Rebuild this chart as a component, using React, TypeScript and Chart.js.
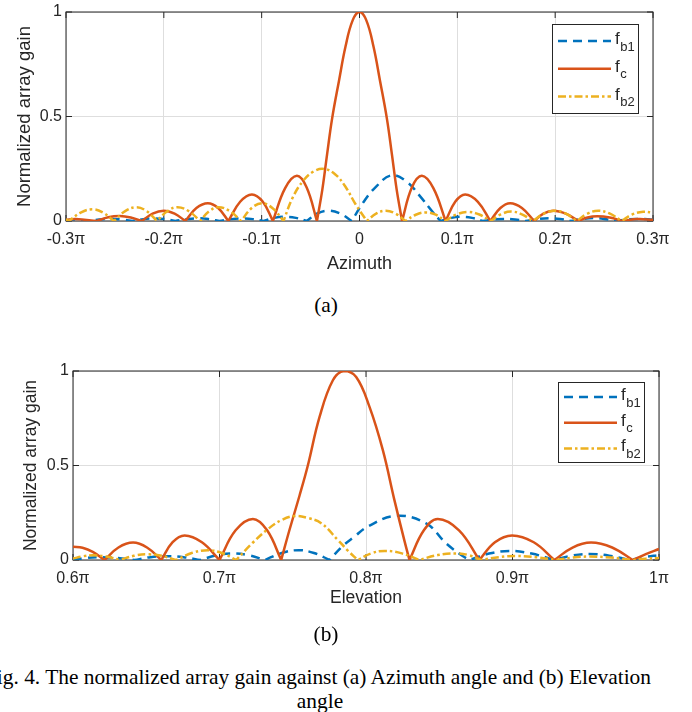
import React, { useEffect, useRef } from 'react';
import { Chart, registerables } from 'chart.js';

Chart.register(...registerables);

// ---------- Shared styling ----------
const SANS = '"Liberation Sans", Arial, Helvetica, sans-serif';
const SERIF = '"Liberation Serif", "Times New Roman", serif';
const INK = '#262626';
const GRID = '#dedede';

const seriesColors = ['#0072BD', '#D95319', '#EDB120'];
const seriesDashes = [[9, 6], [], [8, 3, 2.5, 3]];
const legendMain = ['f', 'f', 'f'];
const legendSub = ['b1', 'c', 'b2'];

const gainTicks = [0, 0.5, 1];
const gainTickLabels = ['0', '0.5', '1'];

// ---------- (a) Azimuth cut, angle in units of π ----------
const azimuthTicks = [-0.3, -0.2, -0.1, 0, 0.1, 0.2, 0.3];
const azimuthTickLabels = ['-0.3π', '-0.2π', '-0.1π', '0', '0.1π', '0.2π', '0.3π'];

const azFb1X = [-0.3, -0.29, -0.277, -0.266, -0.255, -0.243, -0.232, -0.221, -0.21, -0.199, -0.188, -0.176, -0.165, -0.154, -0.143, -0.131, -0.12, -0.109, -0.098, -0.087, -0.076, -0.065, -0.054, -0.043, -0.032, -0.02, -0.008, 0.004, 0.016, 0.033, 0.049, 0.062, 0.074, 0.083, 0.094, 0.104, 0.115, 0.126, 0.137, 0.148, 0.159, 0.17, 0.182, 0.195, 0.205, 0.216, 0.228, 0.24, 0.25, 0.261, 0.273, 0.285, 0.3];
const azFb1Y = [0.004, 0.006, 0, 0.007, 0.01, 0.007, 0, 0.009, 0.012, 0.009, 0, 0.009, 0.013, 0.009, 0, 0.009, 0.012, 0.009, 0, 0.015, 0.02, 0.015, 0, 0.036, 0.049, 0.036, 0, 0.09, 0.16, 0.219, 0.185, 0.118, 0.048, 0, 0.015, 0.02, 0.015, 0, 0.007, 0.01, 0.007, 0, 0.01, 0.013, 0.01, 0, 0.01, 0.014, 0.01, 0, 0.007, 0.01, 0.006];

const azFcX = [-0.3, -0.29, -0.2685, -0.2568, -0.245, -0.2338, -0.2225, -0.2115, -0.2, -0.189, -0.178, -0.1667, -0.155, -0.1445, -0.134, -0.122, -0.11, -0.099, -0.0885, -0.076, -0.064, -0.054, -0.0435, -0.038, -0.0331, -0.028, -0.021, -0.0143, -0.007, 0, 0.007, 0.0143, 0.021, 0.028, 0.0331, 0.038, 0.0435, 0.0535, 0.0638, 0.0755, 0.088, 0.098, 0.108, 0.121, 0.1337, 0.144, 0.154, 0.166, 0.1786, 0.188, 0.198, 0.2108, 0.2236, 0.233, 0.243, 0.2558, 0.2686, 0.284, 0.3];
const azFcY = [0.006, 0.009, 0, 0.018, 0.024, 0.017, 0, 0.035, 0.049, 0.035, 0, 0.062, 0.085, 0.062, 0, 0.092, 0.127, 0.093, 0, 0.157, 0.216, 0.16, 0, 0.15, 0.32, 0.49, 0.67, 0.835, 0.96, 1, 0.96, 0.835, 0.67, 0.49, 0.32, 0.15, 0, 0.16, 0.216, 0.157, 0, 0.093, 0.127, 0.092, 0, 0.062, 0.085, 0.062, 0, 0.035, 0.049, 0.035, 0, 0.017, 0.023, 0.017, 0, 0.009, 0.006];

const azFb2X = [-0.3, -0.297, -0.285, -0.273, -0.262, -0.251, -0.2395, -0.228, -0.2175, -0.207, -0.1965, -0.186, -0.1745, -0.163, -0.1535, -0.144, -0.1325, -0.121, -0.1105, -0.0998, -0.0888, -0.0777, -0.0685, -0.058, -0.047, -0.036, -0.025, -0.0145, -0.004, 0.0075, 0.017, 0.027, 0.037, 0.047, 0.0575, 0.068, 0.078, 0.0876, 0.099, 0.111, 0.1225, 0.134, 0.1445, 0.155, 0.166, 0.177, 0.1885, 0.2, 0.211, 0.222, 0.233, 0.244, 0.256, 0.268, 0.279, 0.29, 0.3];
const azFb2Y = [0.008, 0, 0.04, 0.056, 0.04, 0, 0.047, 0.066, 0.047, 0, 0.047, 0.066, 0.047, 0, 0.047, 0.066, 0.047, 0, 0.061, 0.085, 0.061, 0, 0.11, 0.19, 0.237, 0.249, 0.224, 0.165, 0.08, 0, 0.035, 0.049, 0.035, 0, 0.03, 0.041, 0.03, 0, 0.031, 0.043, 0.031, 0, 0.032, 0.045, 0.032, 0, 0.035, 0.049, 0.035, 0, 0.035, 0.049, 0.035, 0, 0.032, 0.044, 0.04];

// ---------- (b) Elevation cut, angle in units of π ----------
const elevationTicks = [0.6, 0.7, 0.8, 0.9, 1.0];
const elevationTickLabels = ['0.6π', '0.7π', '0.8π', '0.9π', '1π'];

const elFb1X = [0.6, 0.6085, 0.617, 0.6295, 0.642, 0.653, 0.664, 0.6755, 0.687, 0.698, 0.709, 0.72, 0.731, 0.7425, 0.754, 0.7645, 0.7751, 0.7842, 0.792, 0.801, 0.8206, 0.841, 0.8547, 0.866, 0.8706, 0.884, 0.898, 0.913, 0.9286, 0.9405, 0.9525, 0.966, 0.98, 0.99, 1.0];
const elFb1Y = [0, 0.011, 0.015, 0.011, 0, 0.015, 0.02, 0.015, 0, 0.025, 0.035, 0.025, 0, 0.037, 0.052, 0.037, 0, 0.075, 0.123, 0.176, 0.234, 0.194, 0.088, 0.021, 0, 0.034, 0.048, 0.034, 0, 0.023, 0.032, 0.023, 0, 0.015, 0.026];

const elFcX = [0.6, 0.6065, 0.6135, 0.6216, 0.631, 0.641, 0.6505, 0.6603, 0.668, 0.6762, 0.688, 0.7, 0.711, 0.7228, 0.7325, 0.7421, 0.7478, 0.7546, 0.7603, 0.7683, 0.7774, 0.785, 0.7933, 0.8024, 0.8115, 0.8194, 0.8263, 0.8297, 0.8395, 0.849, 0.8635, 0.8774, 0.888, 0.8997, 0.9145, 0.9286, 0.941, 0.9536, 0.968, 0.982, 0.991, 1.0];
const elFcY = [0.07, 0.065, 0.043, 0, 0.066, 0.092, 0.066, 0, 0.094, 0.13, 0.094, 0, 0.157, 0.217, 0.157, 0, 0.16, 0.34, 0.5, 0.757, 0.951, 1, 0.968, 0.81, 0.581, 0.317, 0.1, 0, 0.157, 0.217, 0.157, 0, 0.094, 0.13, 0.094, 0, 0.066, 0.092, 0.066, 0, 0.031, 0.058];

const elFb2X = [0.6, 0.607, 0.614, 0.623, 0.632, 0.6415, 0.651, 0.6605, 0.6705, 0.681, 0.692, 0.7015, 0.7114, 0.7225, 0.7325, 0.742, 0.7512, 0.7605, 0.7694, 0.7808, 0.7876, 0.7944, 0.8035, 0.8126, 0.8245, 0.8365, 0.849, 0.8615, 0.87, 0.8786, 0.8905, 0.9025, 0.916, 0.93, 0.941, 0.952, 0.967, 0.982, 0.991, 1.0];
const elFb2Y = [0.008, 0.02, 0.025, 0.018, 0, 0.022, 0.03, 0.022, 0, 0.037, 0.052, 0.037, 0, 0.09, 0.16, 0.21, 0.233, 0.222, 0.195, 0.106, 0.05, 0, 0.035, 0.048, 0.035, 0, 0.026, 0.035, 0.026, 0, 0.015, 0.021, 0.015, 0, 0.013, 0.018, 0.013, 0, 0.007, 0.01];

// Pair x/y values; each null is repeated so the spline keeps a sharp notch there.
function toPoints(xs: number[], ys: number[]) {
  const pts: { x: number; y: number }[] = [];
  xs.forEach((x, i) => {
    pts.push({ x, y: ys[i] });
    if (ys[i] === 0) pts.push({ x, y: ys[i] });
  });
  return pts;
}

function makeDatasets(series: { x: number[]; y: number[] }[]) {
  return series.map((s, i) => ({
    label: legendMain[i] + '_' + legendSub[i],
    data: toPoints(s.x, s.y),
    borderColor: seriesColors[i],
    borderWidth: 2.5,
    borderDash: seriesDashes[i],
    borderCapStyle: 'butt' as const,
    pointRadius: 0,
    tension: 0.4,
    fill: false,
    // later series are painted over earlier ones
    order: series.length - i,
  }));
}

// Box around the plot area with MATLAB-style inward tick marks.
const axesBox = {
  id: 'axesBox',
  beforeDatasetsDraw(chart: any) {
    const { ctx, chartArea: a, scales } = chart;
    const len = 6;
    ctx.save();
    ctx.strokeStyle = INK;
    ctx.lineWidth = 1;
    ctx.strokeRect(a.left, a.top, a.right - a.left, a.bottom - a.top);
    ctx.beginPath();
    scales.x.ticks.forEach((t: any) => {
      const px = scales.x.getPixelForValue(t.value);
      ctx.moveTo(px, a.bottom);
      ctx.lineTo(px, a.bottom - len);
      ctx.moveTo(px, a.top);
      ctx.lineTo(px, a.top + len);
    });
    scales.y.ticks.forEach((t: any) => {
      const py = scales.y.getPixelForValue(t.value);
      ctx.moveTo(a.left, py);
      ctx.lineTo(a.left + len, py);
      ctx.moveTo(a.right, py);
      ctx.lineTo(a.right - len, py);
    });
    ctx.stroke();
    ctx.restore();
  },
};

// Legend box with subscripted series names.
const subLegend = {
  id: 'subLegend',
  afterDatasetsDraw(chart: any, _args: any, opts: any) {
    const { ctx, chartArea } = chart;
    const left = chartArea.right - opts.offsetRight;
    const top = chartArea.top + opts.offsetTop;
    ctx.save();
    ctx.fillStyle = '#ffffff';
    ctx.fillRect(left, top, opts.width, opts.height);
    ctx.strokeStyle = INK;
    ctx.lineWidth = 1;
    ctx.strokeRect(left + 0.5, top + 0.5, opts.width, opts.height);
    chart.data.datasets.forEach((ds: any, i: number) => {
      const y = top + opts.firstRow + i * opts.rowStep;
      ctx.strokeStyle = ds.borderColor;
      ctx.lineWidth = ds.borderWidth;
      ctx.lineCap = 'butt';
      ctx.setLineDash(ds.borderDash || []);
      ctx.beginPath();
      ctx.moveTo(left + 6, y);
      ctx.lineTo(left + 59, y);
      ctx.stroke();
      ctx.setLineDash([]);
      ctx.fillStyle = INK;
      ctx.textBaseline = 'alphabetic';
      ctx.textAlign = 'left';
      ctx.font = `17px ${SANS}`;
      ctx.fillText(legendMain[i], left + 63, y + 3);
      const w = ctx.measureText(legendMain[i]).width;
      ctx.font = `13px ${SANS}`;
      ctx.fillText(legendSub[i], left + 63 + w + 0.5, y + 9.5);
    });
    ctx.restore();
  },
};

type PanelSpec = {
  series: { x: number[]; y: number[] }[];
  xMin: number;
  xMax: number;
  xTicks: number[];
  xTickLabels: string[];
  xTitle: string;
  xTitleSize: number;
  xTitlePad: number;
  yTitleSize: number;
  yTitlePad: number;
  yAxisWidth: number;
  xAxisHeight: number;
  padding: { left: number; top: number; right: number; bottom: number };
  legend: { offsetRight: number; offsetTop: number; width: number; height: number; firstRow: number; rowStep: number };
};

function makeConfig(p: PanelSpec): any {
  const tickFont = { family: SANS, size: 16 };
  return {
    type: 'line',
    data: { datasets: makeDatasets(p.series) },
    plugins: [axesBox, subLegend],
    options: {
      responsive: false,
      animation: false,
      events: [],
      layout: { padding: p.padding },
      plugins: {
        legend: { display: false },
        tooltip: { enabled: false },
        subLegend: p.legend,
      },
      scales: {
        x: {
          type: 'linear',
          min: p.xMin,
          max: p.xMax,
          afterBuildTicks: (s: any) => {
            s.ticks = p.xTicks.map((v) => ({ value: v }));
          },
          afterFit: (s: any) => {
            s.height = p.xAxisHeight;
            s.paddingLeft = 0;
            s.paddingRight = 0;
          },
          ticks: {
            callback: (_v: any, i: number) => p.xTickLabels[i],
            font: tickFont,
            color: INK,
            padding: 8.5,
            maxRotation: 0,
            autoSkip: false,
          },
          grid: { color: GRID, lineWidth: 1, drawTicks: false },
          border: { display: false },
          title: {
            display: true,
            text: p.xTitle,
            color: INK,
            font: { family: SANS, size: p.xTitleSize },
            padding: { top: 0, bottom: p.xTitlePad },
          },
        },
        y: {
          type: 'linear',
          min: 0,
          max: 1,
          afterBuildTicks: (s: any) => {
            s.ticks = gainTicks.map((v) => ({ value: v }));
          },
          afterFit: (s: any) => {
            s.width = p.yAxisWidth;
            s.paddingTop = 0;
            s.paddingBottom = 0;
          },
          ticks: {
            callback: (_v: any, i: number) => gainTickLabels[i],
            font: tickFont,
            color: INK,
            padding: 4,
          },
          grid: { color: GRID, lineWidth: 1, drawTicks: false },
          border: { display: false },
          title: {
            display: true,
            text: 'Normalized array gain',
            color: INK,
            font: { family: SANS, size: p.yTitleSize },
            padding: { top: p.yTitlePad, bottom: 0 },
          },
        },
      },
    },
  };
}

function GainPanel({ spec, top }: { spec: PanelSpec; top: number }) {
  const ref = useRef<HTMLCanvasElement>(null);
  useEffect(() => {
    const chart = new Chart(ref.current as HTMLCanvasElement, makeConfig(spec));
    return () => chart.destroy();
  }, [spec]);
  return (
    <canvas
      ref={ref}
      width={692}
      height={290}
      style={{ position: 'absolute', left: 0, top, width: 692, height: 290 }}
    />
  );
}

const azimuthPanel: PanelSpec = {
  series: [
    { x: azFb1X, y: azFb1Y },
    { x: azFcX, y: azFcY },
    { x: azFb2X, y: azFb2Y },
  ],
  xMin: -0.3,
  xMax: 0.3,
  xTicks: azimuthTicks,
  xTickLabels: azimuthTickLabels,
  xTitle: 'Azimuth',
  xTitleSize: 18,
  xTitlePad: 15,
  yTitleSize: 18.5,
  yTitlePad: 14,
  yAxisWidth: 66,
  xAxisHeight: 69,
  padding: { left: 0, top: 12, right: 39, bottom: 0 },
  legend: { offsetRight: 101, offsetTop: 12, width: 86, height: 89, firstRow: 17, rowStep: 27.8 },
};

const elevationPanel: PanelSpec = {
  series: [
    { x: elFb1X, y: elFb1Y },
    { x: elFcX, y: elFcY },
    { x: elFb2X, y: elFb2Y },
  ],
  xMin: 0.6,
  xMax: 1.0,
  xTicks: elevationTicks,
  xTickLabels: elevationTickLabels,
  xTitle: 'Elevation',
  xTitleSize: 17.5,
  xTitlePad: 21,
  yTitleSize: 17.5,
  yTitlePad: 21,
  yAxisWidth: 73,
  xAxisHeight: 70,
  padding: { left: 0, top: 31, right: 33, bottom: 0 },
  legend: { offsetRight: 101, offsetTop: 11, width: 86, height: 80, firstRow: 15, rowStep: 25.7 },
};

const captionStyle: React.CSSProperties = {
  position: 'absolute',
  fontFamily: SERIF,
  fontSize: 21.4,
  lineHeight: '24px',
  color: '#000',
  whiteSpace: 'nowrap',
};

export default function App() {
  return (
    <div style={{ position: 'absolute', left: 0, top: 0, width: 692, height: 712, overflow: 'hidden', background: '#fff' }}>
      <GainPanel spec={azimuthPanel} top={0} />
      <div style={{ ...captionStyle, left: 0, width: 652, top: 293, textAlign: 'center' }}>(a)</div>
      <GainPanel spec={elevationPanel} top={340} />
      <div style={{ ...captionStyle, left: 0, width: 652, top: 622, textAlign: 'center' }}>(b)</div>
      <div style={{ ...captionStyle, right: 41, top: 665, textAlign: 'right' }}>
        Fig. 4. The normalized array gain against (a) Azimuth angle and (b) Elevation
      </div>
      <div style={{ ...captionStyle, left: 0, width: 640, top: 689, textAlign: 'center' }}>angle</div>
    </div>
  );
}
